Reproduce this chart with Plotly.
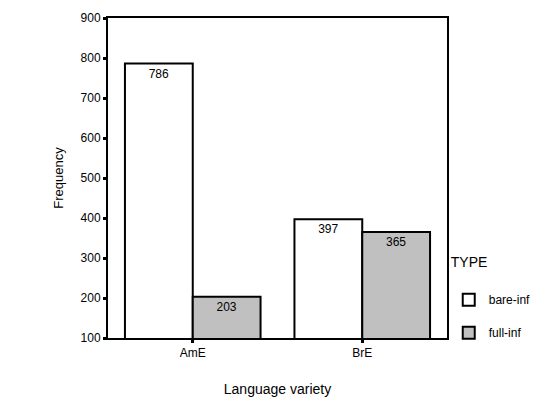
import plotly.graph_objects as go

categories = ["AmE", "BrE"]
bare_inf = [786, 397]
full_inf = [203, 365]
series_names = ["bare-inf", "full-inf"]
y_ticks = [100, 200, 300, 400, 500, 600, 700, 800, 900]

FONT = "Liberation Sans, Arial, sans-serif"

fig = go.Figure()
fig.add_trace(go.Bar(
    x=categories, y=bare_inf, name=series_names[0], legendgroup="a",
    marker=dict(color="white", line=dict(color="black", width=2)),
    text=[str(v) for v in bare_inf], textposition="inside", insidetextanchor="end",
    textangle=0, textfont=dict(family=FONT, size=12, color="black"),
))
fig.add_trace(go.Bar(
    x=categories, y=full_inf, name=series_names[1], legendgroup="b",
    marker=dict(color="#c0c0c0", line=dict(color="black", width=2)),
    text=[str(v) for v in full_inf], textposition="inside", insidetextanchor="end",
    textangle=0, textfont=dict(family=FONT, size=12, color="black"),
))

fig.update_layout(
    width=540, height=406,
    margin=dict(l=108, r=93, t=18, b=68),
    paper_bgcolor="white", plot_bgcolor="white",
    barmode="group", bargap=0.2, bargroupgap=0,
    font=dict(family=FONT, size=12, color="black"),
    uniformtext=dict(minsize=12, mode="show"),
    legend=dict(
        title=dict(text="TYPE<br> ", font=dict(size=14, family=FONT)),
        xref="container", yref="container",
        x=0.831, xanchor="left", y=0.387, yanchor="top",
        font=dict(size=12, family=FONT), tracegroupgap=14,
        bgcolor="rgba(0,0,0,0)",
    ),
    xaxis=dict(
        showline=True, linecolor="black", linewidth=2, mirror=True,
        ticks="outside", ticklen=3, tickwidth=3, tickcolor="black",
        showgrid=False, tickfont=dict(size=12, family=FONT), automargin=False,
        title=dict(text="Language variety", font=dict(size=14, family=FONT), standoff=25),
    ),
    yaxis=dict(
        range=[100, 900], tickvals=y_ticks,
        showline=True, linecolor="black", linewidth=2, mirror=True,
        ticks="outside", ticklen=3, tickwidth=3, tickcolor="black",
        showgrid=False, zeroline=False, tickfont=dict(size=12, family=FONT), automargin=False,
        title=dict(text="Frequency", font=dict(size=13, family=FONT), standoff=14),
    ),
)

fig.write_html("out.html", post_script="document.body.style.margin='0';",
               config={"displayModeBar": False})
